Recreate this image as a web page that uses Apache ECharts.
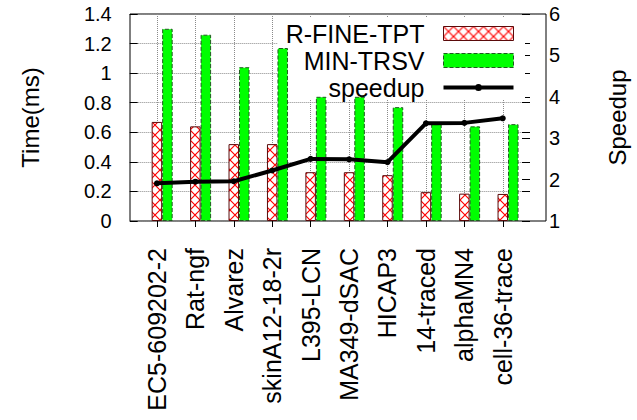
<!DOCTYPE html>
<html>
<head>
<meta charset="utf-8">
<script src="https://cdn.jsdelivr.net/npm/echarts@6/dist/echarts.min.js"></script>
<style>
  html, body { margin: 0; padding: 0; background: #fff; }
  #chart { width: 637px; height: 420px; }
</style>
</head>
<body>
<div id="chart"></div>
<script>
// Matrices on the x axis
const categories = ['EC5-609202-2', 'Rat-ngf', 'Alvarez', 'skinA12-18-2r', 'L395-LCN',
                    'MA349-dSAC', 'HICAP3', '14-traced', 'alphaMN4', 'cell-36-trace'];
// Solve times in milliseconds
const rfineTpt = [0.67, 0.64, 0.52, 0.52, 0.33, 0.33, 0.31, 0.195, 0.185, 0.183];
const minTrsv  = [1.30, 1.26, 1.04, 1.17, 0.84, 0.84, 0.77, 0.655, 0.64, 0.655];
// Speedup of R-FINE-TPT over MIN-TRSV (right axis)
const speedup  = [1.91, 1.95, 1.96, 2.22, 2.50, 2.49, 2.42, 3.36, 3.37, 3.48];
// Axis ranges
const timeAxis = { min: 0, max: 1.4, step: 0.2 };
const speedAxis = { min: 1, max: 6, step: 1 };

const FONT = '"Liberation Sans", Arial, Helvetica, sans-serif';

// red cross-hatch tile for the R-FINE-TPT bars
function crossHatch() {
  const c = document.createElement('canvas');
  c.width = 10; c.height = 10;
  const g = c.getContext('2d');
  g.fillStyle = '#ffffff';
  g.fillRect(0, 0, 10, 10);
  g.strokeStyle = '#ff0000';
  g.lineWidth = 1.2;
  g.beginPath();
  g.moveTo(0, 0); g.lineTo(10, 10);
  g.moveTo(10, 0); g.lineTo(0, 10);
  g.stroke();
  return c;
}
const hatch = { image: crossHatch(), repeat: 'repeat' };

const chart = echarts.init(document.getElementById('chart'), null, { renderer: 'svg' });

const tickStyle = { color: '#000', width: 1 };
const gridLine = { color: '#8a8a8a', type: 'dotted', width: 1 };
const greenBar = { color: '#00ff00', borderColor: '#1f5a1f', borderWidth: 1, borderType: 'dashed' };
const hatchBar = { color: hatch, borderColor: '#5a0a0a', borderWidth: 1 };

// legend key for the line: thick stroke with a small dot in the middle (70 x 14 box)
const lineKey = 'path://M0 0M70 14M0 5H70V9H0Z M38.5 7A3.5 3.5 0 1 1 31.5 7A3.5 3.5 0 1 1 38.5 7Z';

chart.setOption({
  animation: false,
  textStyle: { fontFamily: FONT, color: '#000' },
  grid: [
    { left: 137.7, right: 99.3, top: 14, bottom: 199 },
    { left: 130, right: 91, top: 14, bottom: 199, show: true,
      borderColor: '#000', borderWidth: 1, backgroundColor: 'transparent' }
  ],
  legend: {
    data: [
      { name: 'R-FINE-TPT', icon: 'rect', itemStyle: hatchBar },
      { name: 'MIN-TRSV', icon: 'rect', itemStyle: greenBar },
      { name: 'speedup', icon: lineKey, itemStyle: { color: '#000', borderWidth: 0 } }
    ],
    orient: 'vertical',
    align: 'right',
    right: 112,
    top: 18,
    z: 1,
    padding: [3, 11, 0, 8],
    itemGap: 2,
    itemWidth: 70,
    itemHeight: 14,
    backgroundColor: '#fff',
    selectedMode: false,
    textStyle: { fontFamily: FONT, fontSize: 25, color: '#000', padding: [0, 14, 0, 0] }
  },
  xAxis: [
    {
      type: 'category', gridIndex: 0, position: 'bottom', data: categories,
      axisLine: { show: false },
      axisTick: { show: true, alignWithLabel: true, length: 6, lineStyle: tickStyle },
      axisLabel: { interval: 0, rotate: 90, margin: 27, fontSize: 25, fontFamily: FONT, color: '#000' },
      splitLine: { show: true, alignWithLabel: true, lineStyle: gridLine }
    },
    {
      type: 'category', gridIndex: 0, position: 'top', data: categories,
      axisLine: { show: false },
      axisTick: { show: true, alignWithLabel: true, length: 6, lineStyle: tickStyle },
      axisLabel: { show: false },
      splitLine: { show: false }
    },
    { type: 'value', gridIndex: 1, show: false }
  ],
  yAxis: [
    {
      type: 'value', gridIndex: 0, position: 'left', offset: 8,
      min: timeAxis.min, max: timeAxis.max, interval: timeAxis.step,
      axisLine: { show: false },
      axisTick: { show: true, inside: true, length: 8, lineStyle: tickStyle },
      axisLabel: { fontSize: 20, margin: 18, color: '#000', fontFamily: FONT },
      splitLine: { show: true, lineStyle: gridLine },
      name: 'Time(ms)', nameLocation: 'middle', nameGap: 87, nameRotate: 90,
      nameTextStyle: { fontSize: 24, color: '#000', fontFamily: FONT }
    },
    {
      type: 'value', gridIndex: 0, position: 'right', offset: 8,
      min: speedAxis.min, max: speedAxis.max, interval: speedAxis.step,
      axisLine: { show: false },
      axisTick: { show: true, inside: true, length: 8, lineStyle: tickStyle },
      axisLabel: { fontSize: 20, margin: 19, color: '#000', fontFamily: FONT },
      splitLine: { show: false },
      name: 'Speedup', nameLocation: 'middle', nameGap: 75, nameRotate: 90,
      nameTextStyle: { fontSize: 24, color: '#000', fontFamily: FONT }
    },
    {
      // mirrored time ticks on the right border
      type: 'value', gridIndex: 0, position: 'right', offset: 8,
      min: timeAxis.min, max: timeAxis.max, interval: timeAxis.step,
      axisLine: { show: false },
      axisTick: { show: true, inside: true, length: 8, lineStyle: tickStyle },
      axisLabel: { show: false },
      splitLine: { show: false }
    },
    { type: 'value', gridIndex: 1, show: false }
  ],
  series: [
    {
      // empty slot left of each group so the hatched bar sits on the tick
      name: 'spacer', type: 'bar', xAxisIndex: 0, yAxisIndex: 0,
      data: [], barWidth: 10.5, barGap: '0%', silent: true
    },
    {
      name: 'R-FINE-TPT', type: 'bar', xAxisIndex: 0, yAxisIndex: 0,
      data: rfineTpt, barWidth: 10.5, barGap: '0%',
      itemStyle: hatchBar
    },
    {
      name: 'MIN-TRSV', type: 'bar', xAxisIndex: 0, yAxisIndex: 0,
      data: minTrsv, barWidth: 10.5, barGap: '0%',
      itemStyle: greenBar
    },
    {
      name: 'speedup', type: 'line', xAxisIndex: 0, yAxisIndex: 1,
      data: speedup, symbol: 'circle', symbolSize: 6, showSymbol: true, z: 5,
      lineStyle: { color: '#000', width: 4 },
      itemStyle: { color: '#000' }
    }
  ]
});
</script>
</body>
</html>
